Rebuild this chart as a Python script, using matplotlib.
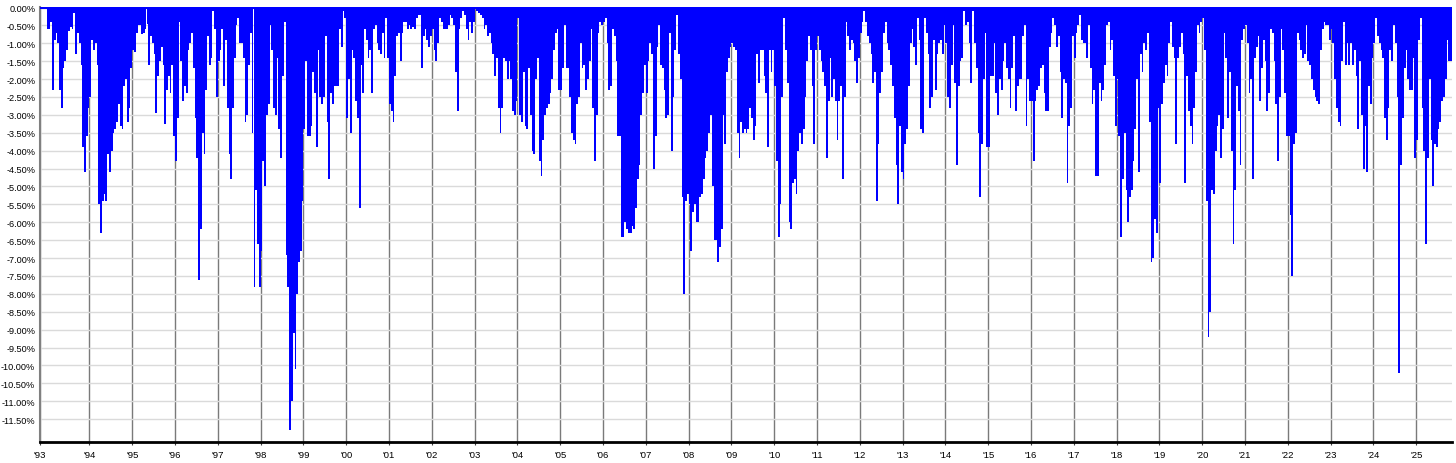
import numpy as np
import matplotlib
matplotlib.use("Agg")
import matplotlib.pyplot as plt

plt.rcParams["font.family"] = ["Liberation Sans", "DejaVu Sans"]

# drawdown in %, half-month steps (1993 starts a bit before the year)
dd_1993 = [0, 0, 0, -0.05, -0.6, -0.6, -0.4, -2.3, -0.9, -0.7, -1.0, -2.3, -2.8, -1.7,
           -1.5, -1.2, -0.65, -0.55, -0.6, -0.15, -1.3, -0.7, -1.0, -1.6, -3.9, -4.6, -3.6, -2.8]
dd_1994 = [-2.5, -0.9, -1.2, -1.0, -1.6, -5.5, -6.3, -5.4, -5.2, -5.4, -4.1, -4.6,
           -4.0, -3.5, -3.4, -3.2, -2.7, -3.3, -3.4, -2.2, -2.0, -3.2, -2.8, -1.7]
dd_1995 = [-1.2, -1.25, -0.7, -0.5, -0.5, -0.75, -0.7, -0.6, -0.45, -1.6, -0.8, -1.0,
           -1.3, -2.95, -1.9, -1.5, -1.1, -1.6, -3.25, -2.3, -1.9, -2.4, -1.6, -3.6]
dd_1996 = [-4.3, -3.1, -0.4, -1.5, -2.6, -2.2, -2.4, -1.2, -1.0, -0.7, -1.7, -3.1,
           -4.2, -7.6, -6.2, -3.5, -4.1, -2.3, -0.8, -1.6, -1.4, -0.1, -0.6, -2.5]
dd_1997 = [-1.5, -1.2, -0.6, -2.2, -0.9, -2.8, -4.1, -4.8, -2.8, -1.4, -0.5, -0.3,
           -1.0, -1.0, -1.4, -3.2, -3.0, -1.6, -0.7, -3.5, -7.8, -5.1, -6.6, -7.8]
dd_1998 = [-6.8, -4.3, -5.0, -3.0, -2.7, -0.5, -1.2, -2.8, -3.0, -1.4, -3.4, -4.2,
           -1.9, -0.4, -6.9, -7.8, -11.8, -11.0, -9.1, -10.1, -8.0, -7.1, -6.8, -5.4]
dd_1999 = [-3.4, -1.5, -3.6, -3.6, -3.3, -1.8, -2.4, -3.9, -1.2, -2.5, -2.7, -2.5,
           -0.8, -3.2, -4.8, -2.4, -2.7, -2.2, -2.2, -2.2, -0.6, -1.1, -0.1, -0.3]
dd_2000 = [-3.1, -2.0, -3.5, -1.2, -1.4, -2.6, -3.1, -5.6, -1.6, -2.4, -0.6, -0.9,
           -1.4, -1.2, -2.4, -0.6, -0.5, -1.0, -1.2, -1.3, -0.7, -1.4, -0.3, -1.4]
dd_2001 = [-2.7, -2.9, -3.2, -1.9, -0.8, -0.7, -1.5, -0.7, -0.4, -0.4, -0.6, -0.5,
           -0.6, -0.55, -0.6, -0.3, -0.2, -0.2, -1.7, -0.8, -0.6, -0.9, -1.1, -0.8]
dd_2002 = [-0.6, -1.2, -1.5, -1.0, -0.3, -0.4, -0.6, -0.6, -0.6, -0.5, -0.2, -0.3,
           -0.5, -1.8, -2.9, -0.6, -0.3, -0.1, -0.2, -0.6, -0.9, -0.4, -0.7, -0.4]
dd_2003 = [-0.05, -0.1, -0.15, -0.2, -0.3, -0.6, -0.5, -0.8, -0.7, -1.0, -1.3, -1.9,
           -1.4, -2.8, -3.5, -2.8, -1.4, -1.5, -2.0, -1.5, -2.0, -2.9, -3.0, -2.6]
dd_2004 = [-0.3, -3.0, -3.2, -1.8, -3.3, -3.4, -1.7, -3.0, -4.0, -4.1, -2.0, -1.4,
           -4.3, -4.7, -3.7, -3.0, -2.8, -2.7, -2.4, -2.0, -1.2, -0.7, -0.6, -2.3]
dd_2005 = [-2.3, -1.7, -0.5, -1.7, -1.7, -2.5, -3.5, -3.7, -3.8, -2.7, -2.5, -1.0,
           -1.7, -1.6, -2.3, -2.0, -1.5, -0.6, -2.8, -4.3, -3.0, -0.7, -0.4, -0.5]
dd_2006 = [-0.4, -0.3, -1.0, -2.3, -2.2, -0.6, -0.8, -1.5, -3.6, -3.6, -6.4, -6.4,
           -6.0, -6.2, -6.3, -6.3, -6.1, -6.2, -5.6, -4.8, -4.4, -3.0, -2.4, -1.6]
dd_2007 = [-2.4, -1.5, -1.0, -1.3, -4.5, -3.6, -1.1, -0.5, -1.6, -1.7, -2.3, -3.1,
           -3.0, -0.7, -4.0, -2.5, -1.2, -0.2, -1.3, -2.0, -5.3, -8.0, -5.4, -5.2]
dd_2008 = [-5.5, -6.8, -5.7, -5.5, -6.0, -6.0, -5.3, -5.2, -4.8, -4.2, -4.0, -3.5,
           -3.0, -5.0, -6.5, -6.5, -7.1, -6.7, -6.2, -3.0, -3.8, -1.8, -1.4, -1.1]
dd_2009 = [-1.0, -1.1, -1.2, -3.5, -4.2, -3.2, -3.5, -3.4, -3.5, -3.4, -2.8, -3.1,
           -3.7, -3.3, -1.3, -2.1, -1.2, -1.2, -1.9, -2.4, -3.9, -1.2, -1.8, -1.2]
dd_2010 = [-2.2, -4.3, -6.4, -5.5, -2.5, -0.3, -1.2, -2.1, -6.0, -6.2, -4.9, -4.8,
           -5.2, -4.0, -3.5, -3.8, -3.4, -2.5, -1.5, -0.8, -1.2, -2.2, -3.8, -1.2]
dd_2011 = [-0.8, -1.2, -1.5, -1.8, -2.2, -4.2, -2.6, -1.4, -2.5, -2.0, -2.6, -3.7,
           -2.6, -2.2, -4.8, -2.5, -0.4, -0.8, -1.2, -0.9, -1.0, -1.5, -2.1, -1.4]
dd_2012 = [-0.7, -0.4, -0.1, -0.4, -0.8, -1.0, -1.3, -2.1, -1.8, -5.4, -3.8, -2.4,
           -1.8, -0.7, -0.4, -1.0, -1.2, -1.6, -2.2, -3.1, -4.4, -5.5, -3.3, -4.6]
dd_2013 = [-4.8, -3.8, -3.4, -2.2, -1.0, -0.6, -1.1, -1.6, -0.3, -0.9, -3.4, -3.5,
           -0.3, -0.7, -1.3, -2.8, -2.5, -0.9, -2.3, -1.3, -1.0, -0.9, -1.3, -0.5]
dd_2014 = [-1.0, -2.5, -2.8, -1.6, -0.5, -2.1, -4.4, -2.2, -1.5, -1.4, -0.1, -0.5,
           -0.4, -1.0, -2.1, -0.1, -1.0, -1.7, -3.5, -5.3, -3.8, -2.0, -0.7, -3.9]
dd_2015 = [-3.9, -1.9, -1.9, -1.0, -2.4, -3.0, -2.0, -2.3, -1.5, -1.0, -1.7, -2.0,
           -2.8, -1.7, -0.8, -2.9, -2.2, -2.0, -2.0, -0.8, -0.5, -3.3, -2.0, -2.6]
dd_2016 = [-2.6, -4.3, -2.6, -2.3, -2.2, -1.7, -1.6, -2.4, -2.9, -2.9, -1.1, -0.7,
           -0.3, -0.5, -1.1, -0.8, -1.8, -3.1, -2.0, -2.1, -4.9, -3.3, -2.8, -0.8]
dd_2017 = [-1.4, -0.7, -0.5, -0.2, -0.9, -1.0, -1.0, -1.4, -0.5, -1.7, -2.7, -2.3,
           -4.7, -4.7, -2.1, -2.6, -2.3, -1.6, -0.5, -0.4, -1.2, -0.9, -1.9, -3.3]
dd_2018 = [-2.0, -3.6, -6.4, -4.8, -3.5, -5.1, -6.0, -5.3, -5.1, -4.3, -3.4, -2.0,
           -4.6, -1.3, -1.8, -1.0, -1.2, -0.7, -3.2, -7.1, -7.0, -5.9, -6.3, -2.8]
dd_2019 = [-4.9, -2.7, -2.1, -1.6, -1.9, -1.0, -0.4, -1.1, -1.4, -3.8, -1.4, -1.1,
           -0.7, -1.3, -4.9, -1.9, -2.9, -3.3, -3.8, -2.8, -1.8, -0.5, -0.7, -0.4]
dd_2020 = [-0.3, -1.2, -5.4, -9.2, -8.5, -5.1, -5.2, -4.0, -3.3, -3.0, -4.2, -3.4,
           -0.7, -1.4, -3.1, -1.8, -4.0, -6.6, -5.1, -2.2, -2.9, -4.4, -0.9, -0.6]
dd_2021 = [-0.5, -1.0, -2.4, -2.0, -4.8, -1.4, -1.1, -0.8, -2.6, -1.7, -0.9, -1.5,
           -2.9, -2.4, -0.6, -0.7, -1.5, -2.7, -4.3, -2.5, -0.6, -1.2, -2.4, -3.6]
dd_2022 = [-3.6, -5.8, -7.5, -3.8, -3.5, -0.7, -0.9, -1.2, -1.4, -1.3, -0.5, -1.5,
           -1.6, -2.0, -2.3, -2.5, -2.6, -2.7, -1.2, -0.6, -0.4, -0.5, -0.5, -0.9]
dd_2023 = [-0.6, -1.0, -2.0, -2.8, -3.2, -3.3, -1.5, -0.4, -1.6, -1.0, -1.6, -1.0,
           -1.6, -1.2, -1.9, -3.4, -1.5, -3.0, -4.5, -3.3, -4.6, -2.2, -2.7, -1.4]
dd_2024 = [-1.0, -0.3, -0.8, -1.0, -1.2, -1.4, -3.1, -3.7, -2.8, -1.2, -1.5, -0.5,
           -1.0, -2.5, -10.2, -4.4, -3.1, -1.7, -1.2, -2.0, -2.3, -2.3, -1.4, -4.2]
dd_2025 = [-3.7, -0.9, -0.3, -2.8, -4.0, -6.6, -4.2, -2.0, -3.7, -5.0, -3.8, -3.9,
           -3.4, -3.2, -2.6, -2.5, -2.0, -0.9, -1.5, -1.5]

year_labels = ["'%02d" % (y % 100) for y in range(1993, 2026)]

drawdown = np.concatenate([dd_1993, dd_1994, dd_1995, dd_1996, dd_1997, dd_1998,
                           dd_1999, dd_2000, dd_2001, dd_2002, dd_2003, dd_2004,
                           dd_2005, dd_2006, dd_2007, dd_2008, dd_2009, dd_2010,
                           dd_2011, dd_2012, dd_2013, dd_2014, dd_2015, dd_2016,
                           dd_2017, dd_2018, dd_2019, dd_2020, dd_2021, dd_2022,
                           dd_2023, dd_2024, dd_2025])
step = 1 / 24
start = 1994 - len(dd_1993) * step
t = start + (np.arange(len(drawdown)) + 0.5) * step

fig = plt.figure(figsize=(14.56, 4.64), dpi=100)
ax = fig.add_axes([39.5 / 1456, 1 - 443 / 464, (1452 - 39.5) / 1456, 435 / 464])

ax.bar(t, drawdown, width=step, color="#0000ff", linewidth=0,
       antialiased=False, zorder=3)
ax.axhline(0, color="#0000ff", lw=1.5, zorder=3)

ax.set_xlim(start, start + (1452 - 39.5) / 42.8)
ax.set_ylim(-12.137, 0.014)

yt = -0.5 * np.arange(24)
ax.set_yticks(yt)
ax.set_yticklabels(["%.2f%%" % v if v != 0 else "0.00%" for v in yt])
xt = [start] + list(range(1994, 2026))
ax.set_xticks(xt)
ax.set_xticklabels(year_labels)

ax.set_axisbelow(True)
ax.yaxis.grid(True, color="#dadada", lw=1)
ax.xaxis.grid(True, color="#7a7a7a", lw=1)

ax.spines["top"].set_visible(False)
ax.spines["right"].set_visible(False)
ax.spines["left"].set_color("#808080")
ax.spines["left"].set_linewidth(1.5)
ax.spines["bottom"].set_color("black")
ax.spines["bottom"].set_linewidth(2)

ax.tick_params(axis="y", length=0, pad=3, labelsize=6.6)
ax.tick_params(axis="x", length=2, pad=3.5, labelsize=6.8, color="#404040")

fig.savefig("out.png", dpi=100)
